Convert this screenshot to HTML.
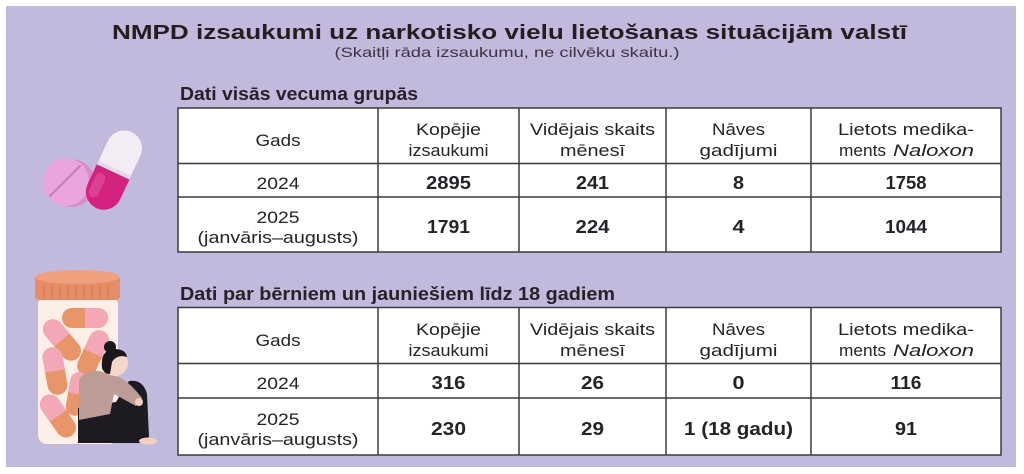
<!DOCTYPE html>
<html>
<head>
<meta charset="utf-8">
<style>
  html,body{margin:0;padding:0;background:#ffffff;}
  svg{display:block;}
  text{font-family:"Liberation Sans",Arial,sans-serif;fill:#262228;}
  .h{font-size:17px;}
  .b{font-size:18px;font-weight:bold;}
</style>
</head>
<body>
<svg width="1024" height="474" viewBox="0 0 1024 474" xmlns="http://www.w3.org/2000/svg">
  <rect x="0" y="0" width="1024" height="474" fill="#ffffff"/>
  <rect x="6" y="6" width="1010" height="461" fill="#c2badd"/>

  <!-- Title -->
  <text x="112" y="39" font-size="20" font-weight="bold" textLength="795" lengthAdjust="spacingAndGlyphs" style="fill:#231f20">NMPD izsaukumi uz narkotisko vielu lietošanas situācijām valstī</text>
  <text x="507" y="57" font-size="14" text-anchor="middle" textLength="345" lengthAdjust="spacingAndGlyphs" style="fill:#3a3540">(Skaitļi rāda izsaukumu, ne cilvēku skaitu.)</text>

  <!-- Section headings -->
  <text x="180" y="100" font-size="18" font-weight="bold" textLength="238" lengthAdjust="spacingAndGlyphs">Dati visās vecuma grupās</text>
  <text x="180" y="300" font-size="18" font-weight="bold" textLength="435" lengthAdjust="spacingAndGlyphs">Dati par bērniem un jauniešiem līdz 18 gadiem</text>

  <!-- Table 1 -->
  <g stroke="#3b3a3d" stroke-width="1.5" fill="none">
    <rect x="178" y="108" width="823" height="144" fill="#ffffff"/>
    <line x1="378" y1="108" x2="378" y2="252"/>
    <line x1="519" y1="108" x2="519" y2="252"/>
    <line x1="666" y1="108" x2="666" y2="252"/>
    <line x1="811" y1="108" x2="811" y2="252"/>
    <line x1="178" y1="163.5" x2="1001" y2="163.5"/>
    <line x1="178" y1="197" x2="1001" y2="197"/>
  </g>
  <g text-anchor="middle">
    <text class="h" x="278" y="146" textLength="45" lengthAdjust="spacingAndGlyphs">Gads</text>
    <text class="h" x="448.5" y="135" textLength="65" lengthAdjust="spacingAndGlyphs">Kopējie</text>
    <text class="h" x="448.5" y="156" textLength="80" lengthAdjust="spacingAndGlyphs">izsaukumi</text>
    <text class="h" x="592.5" y="135" textLength="125" lengthAdjust="spacingAndGlyphs">Vidējais skaits</text>
    <text class="h" x="592.5" y="156" textLength="65" lengthAdjust="spacingAndGlyphs">mēnesī</text>
    <text class="h" x="738.5" y="135" textLength="53" lengthAdjust="spacingAndGlyphs">Nāves</text>
    <text class="h" x="738.5" y="156" textLength="78" lengthAdjust="spacingAndGlyphs">gadījumi</text>
    <text class="h" x="906" y="135" textLength="136" lengthAdjust="spacingAndGlyphs">Lietots medika-</text>

    <text class="h" x="278" y="189" textLength="43" lengthAdjust="spacingAndGlyphs">2024</text>
    <text class="b" x="448.5" y="189" textLength="45" lengthAdjust="spacingAndGlyphs">2895</text>
    <text class="b" x="592.5" y="189" textLength="33" lengthAdjust="spacingAndGlyphs">241</text>
    <text class="b" x="738.5" y="189" textLength="11" lengthAdjust="spacingAndGlyphs">8</text>
    <text class="b" x="906" y="189" textLength="41" lengthAdjust="spacingAndGlyphs">1758</text>

    <text class="h" x="278" y="223" textLength="43" lengthAdjust="spacingAndGlyphs">2025</text>
    <text class="h" x="278" y="243" textLength="161" lengthAdjust="spacingAndGlyphs">(janvāris–augusts)</text>
    <text class="b" x="448.5" y="233" textLength="43" lengthAdjust="spacingAndGlyphs">1791</text>
    <text class="b" x="592.5" y="233" textLength="34" lengthAdjust="spacingAndGlyphs">224</text>
    <text class="b" x="738.5" y="233" textLength="12" lengthAdjust="spacingAndGlyphs">4</text>
    <text class="b" x="906" y="233" textLength="42" lengthAdjust="spacingAndGlyphs">1044</text>
  </g>
  <text class="h" x="839" y="156" textLength="47" lengthAdjust="spacingAndGlyphs">ments</text>
  <text class="h" x="893" y="156" font-style="italic" textLength="81" lengthAdjust="spacingAndGlyphs">Naloxon</text>

  <!-- Table 2 -->
  <g stroke="#3b3a3d" stroke-width="1.5" fill="none">
    <rect x="178" y="307.5" width="823" height="147.5" fill="#ffffff"/>
    <line x1="378" y1="307.5" x2="378" y2="455"/>
    <line x1="519" y1="307.5" x2="519" y2="455"/>
    <line x1="666" y1="307.5" x2="666" y2="455"/>
    <line x1="811" y1="307.5" x2="811" y2="455"/>
    <line x1="178" y1="363.5" x2="1001" y2="363.5"/>
    <line x1="178" y1="398" x2="1001" y2="398"/>
  </g>
  <g text-anchor="middle">
    <text class="h" x="278" y="346" textLength="45" lengthAdjust="spacingAndGlyphs">Gads</text>
    <text class="h" x="448.5" y="335" textLength="65" lengthAdjust="spacingAndGlyphs">Kopējie</text>
    <text class="h" x="448.5" y="356" textLength="80" lengthAdjust="spacingAndGlyphs">izsaukumi</text>
    <text class="h" x="592.5" y="335" textLength="125" lengthAdjust="spacingAndGlyphs">Vidējais skaits</text>
    <text class="h" x="592.5" y="356" textLength="65" lengthAdjust="spacingAndGlyphs">mēnesī</text>
    <text class="h" x="738.5" y="335" textLength="53" lengthAdjust="spacingAndGlyphs">Nāves</text>
    <text class="h" x="738.5" y="356" textLength="78" lengthAdjust="spacingAndGlyphs">gadījumi</text>
    <text class="h" x="906" y="335" textLength="136" lengthAdjust="spacingAndGlyphs">Lietots medika-</text>

    <text class="h" x="278" y="389" textLength="43" lengthAdjust="spacingAndGlyphs">2024</text>
    <text class="b" x="448.5" y="389" textLength="34" lengthAdjust="spacingAndGlyphs">316</text>
    <text class="b" x="592.5" y="389" textLength="23" lengthAdjust="spacingAndGlyphs">26</text>
    <text class="b" x="738.5" y="389" textLength="12" lengthAdjust="spacingAndGlyphs">0</text>
    <text class="b" x="906" y="389" textLength="31" lengthAdjust="spacingAndGlyphs">116</text>

    <text class="h" x="278" y="425" textLength="43" lengthAdjust="spacingAndGlyphs">2025</text>
    <text class="h" x="278" y="445" textLength="161" lengthAdjust="spacingAndGlyphs">(janvāris–augusts)</text>
    <text class="b" x="448.5" y="435" textLength="35" lengthAdjust="spacingAndGlyphs">230</text>
    <text class="b" x="592.5" y="435" textLength="23" lengthAdjust="spacingAndGlyphs">29</text>
    <text class="b" x="738.5" y="435" textLength="109" lengthAdjust="spacingAndGlyphs">1 (18 gadu)</text>
    <text class="b" x="906" y="435" textLength="22" lengthAdjust="spacingAndGlyphs">91</text>
  </g>
  <text class="h" x="839" y="356" textLength="47" lengthAdjust="spacingAndGlyphs">ments</text>
  <text class="h" x="893" y="356" font-style="italic" textLength="81" lengthAdjust="spacingAndGlyphs">Naloxon</text>

  <!-- Pill illustration -->
  <ellipse cx="71" cy="183" rx="24" ry="24" fill="#d98ccd"/>
  <ellipse cx="66" cy="182" rx="23" ry="24" fill="#e9a5dc"/>
  <line x1="50" y1="196" x2="80" y2="166" stroke="#c97bbd" stroke-width="2.2" stroke-linecap="round"/>
  <g transform="rotate(25 114 170)">
    <rect x="96" y="128" width="36" height="84" rx="18" fill="#d4237f"/>
    <rect x="100" y="178" width="10" height="26" rx="5" fill="#e2579f" opacity="0.6"/>
    <rect x="96" y="128" width="36" height="44" rx="18" fill="#f3ecf5"/>
    <rect x="96" y="150" width="36" height="22" fill="#f3ecf5"/>
    <rect x="96" y="168" width="36" height="4" fill="#e7d8ea"/>
  </g>

  <!-- Jar illustration -->
  <rect x="38" y="296" width="80" height="148" rx="9" fill="#fcefe8"/>
  <rect x="35" y="275" width="85" height="25" rx="4" fill="#e58d66"/>
  <ellipse cx="77.5" cy="277" rx="42.5" ry="7" fill="#f0a07d"/>
  <g stroke="#cf764f" stroke-width="1">
    <line x1="44" y1="286" x2="44" y2="298"/>
    <line x1="52" y1="286" x2="52" y2="298"/>
    <line x1="60" y1="286" x2="60" y2="298"/>
    <line x1="68" y1="286" x2="68" y2="298"/>
    <line x1="76" y1="286" x2="76" y2="298"/>
    <line x1="84" y1="286" x2="84" y2="298"/>
    <line x1="92" y1="286" x2="92" y2="298"/>
    <line x1="100" y1="286" x2="100" y2="298"/>
    <line x1="108" y1="286" x2="108" y2="298"/>
  </g>
  <!-- capsules inside jar -->
  <g transform="rotate(90 85 318)">
    <rect x="75" y="295" width="20" height="46" rx="10" fill="#e8956a"/>
    <rect x="75" y="295" width="20" height="23" rx="10" fill="#f4a7b6"/>
    <rect x="75" y="308" width="20" height="10" fill="#f4a7b6"/>
  </g>
  <g transform="rotate(-40 62 340)">
    <rect x="52" y="316" width="20" height="48" rx="10" fill="#e8956a"/>
    <rect x="52" y="316" width="20" height="24" rx="10" fill="#f4a7b6"/>
    <rect x="52" y="330" width="20" height="10" fill="#f4a7b6"/>
  </g>
  <g transform="rotate(-10 55 371)">
    <rect x="45" y="347" width="20" height="48" rx="10" fill="#e8956a"/>
    <rect x="45" y="347" width="20" height="24" rx="10" fill="#f4a7b6"/>
    <rect x="45" y="361" width="20" height="10" fill="#f4a7b6"/>
  </g>
  <g transform="rotate(25 93 353)">
    <rect x="83" y="329" width="20" height="48" rx="10" fill="#e8956a"/>
    <rect x="83" y="329" width="20" height="24" rx="10" fill="#f4a7b6"/>
    <rect x="83" y="343" width="20" height="10" fill="#f4a7b6"/>
  </g>
  <g transform="rotate(-35 58 416)">
    <rect x="48" y="392" width="20" height="48" rx="10" fill="#e8956a"/>
    <rect x="48" y="392" width="20" height="24" rx="10" fill="#f4a7b6"/>
    <rect x="48" y="406" width="20" height="10" fill="#f4a7b6"/>
  </g>
  <g transform="rotate(10 77 394)">
    <rect x="68" y="372" width="18" height="44" rx="9" fill="#e8956a"/>
    <rect x="68" y="372" width="18" height="22" rx="9" fill="#f4a7b6"/>
    <rect x="68" y="384" width="18" height="10" fill="#f4a7b6"/>
  </g>
  <!-- woman -->
  <path d="M78 408 L78 443 L141 443 L149 437 L147 394 Q143 379 129 381 L116 402 Z" fill="#1d1a22"/>
  <path d="M79 380 Q86 369 100 371 L116 376 Q128 380 142 398 L136 406 L114 394 L110 414 L79 420 Z" fill="#bd9c96"/>
  <circle cx="139" cy="402" r="4" fill="#f3cfc0"/>
  <ellipse cx="148" cy="441" rx="9" ry="3.5" fill="#f3cfc0"/>
  <circle cx="115" cy="363" r="13" fill="#f6d8cb"/>
  <path d="M102 368 Q100 350 114 349 Q126 349 127 357 Q117 354 112 362 L110 374 Q104 374 102 368 Z" fill="#1b171c"/>
  <circle cx="110" cy="347" r="6" fill="#1b171c"/>
</svg>
</body>
</html>
